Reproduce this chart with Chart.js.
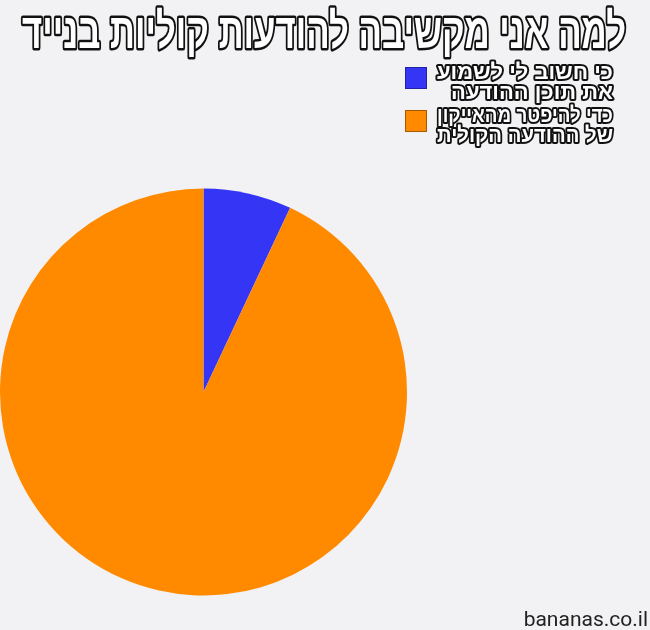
<!DOCTYPE html>
<html>
<head>
<meta charset="utf-8">
<script src="https://cdn.jsdelivr.net/npm/chart.js@4/dist/chart.umd.min.js"></script>
<style>
  html, body { margin: 0; padding: 0; background: #f2f2f4; }
  #wrap { width: 650px; height: 630px; }
</style>
</head>
<body>
<div id="wrap"><canvas id="js-chart-pie" width="650" height="630"></canvas></div>
<script>
// Chart data
const chartTitle = 'למה אני מקשיבה להודעות קוליות בנייד';
const sliceLabels = [
  ['כי חשוב לי לשמוע', 'את תוכן ההודעה'],
  ['כדי להיפטר מהאייקון', 'של ההודעה הקולית']
];
const sliceValues = [7, 93];
const sliceColors = ['#3535f6', '#ff8a00'];
const watermark = 'bananas.co.il';

// Draws the outlined title, the legend and the watermark
const outlinePlugin = {
  id: 'outlineText',
  beforeDraw(chart) {
    const ctx = chart.ctx;
    ctx.save();
    ctx.fillStyle = '#f2f2f4';
    ctx.fillRect(0, 0, chart.width, chart.height);
    ctx.restore();
  },
  afterDraw(chart) {
    const ctx = chart.ctx;
    ctx.save();
    ctx.direction = 'rtl';
    ctx.lineJoin = 'round';

    // Title
    ctx.font = 'bold 49px "Liberation Sans", "DejaVu Sans", sans-serif';
    ctx.textAlign = 'center';
    ctx.textBaseline = 'middle';
    ctx.lineWidth = 5;
    ctx.strokeStyle = '#111';
    ctx.strokeText(chartTitle, 324, 34, 604);
    ctx.fillStyle = '#fff';
    ctx.fillText(chartTitle, 324, 34, 604);

    // Legend
    ctx.font = 'bold 22px "Liberation Sans", "DejaVu Sans", sans-serif';
    ctx.textAlign = 'right';
    sliceLabels.forEach((lines, i) => {
      const top = 67 + i * 43;
      ctx.fillStyle = sliceColors[i];
      ctx.fillRect(405, top, 22, 22);
      ctx.lineWidth = 1;
      ctx.strokeStyle = 'rgba(0,0,0,0.35)';
      ctx.strokeRect(405.5, top + 0.5, 21, 21);
      lines.forEach((line, j) => {
        const y = top + 6 + j * 20;
        ctx.lineWidth = 4;
        ctx.strokeStyle = '#111';
        ctx.strokeText(line, 613, y, 176);
        ctx.fillStyle = '#fff';
        ctx.fillText(line, 613, y, 176);
      });
    });

    // Watermark
    ctx.direction = 'ltr';
    ctx.font = '21px Roboto, "Liberation Sans", sans-serif';
    ctx.textAlign = 'right';
    ctx.textBaseline = 'alphabetic';
    ctx.fillStyle = '#222';
    ctx.fillText(watermark, 648, 626);
    ctx.restore();
  }
};

let chartPie = new Chart(document.getElementById('js-chart-pie'), {
  type: 'pie',
  data: {
    labels: sliceLabels,
    datasets: [{
      data: sliceValues,
      backgroundColor: sliceColors,
      borderWidth: 0
    }]
  },
  options: {
    responsive: false,
    animation: false,
    layout: { padding: { left: -3, right: 243, top: 184, bottom: 30 } },
    plugins: {
      legend: { display: false },
      tooltip: { enabled: false },
      title: { display: false }
    }
  },
  plugins: [outlinePlugin]
});
</script>
</body>
</html>
